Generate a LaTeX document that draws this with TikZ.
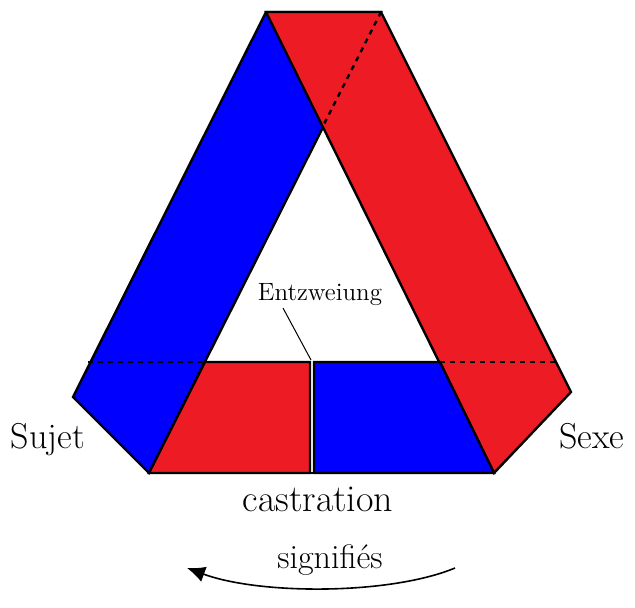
\documentclass[tikz,border=0pt]{standalone}
\usetikzlibrary{arrows.meta}
\definecolor{bandred}{RGB}{237,28,36}
\definecolor{bandblue}{RGB}{0,0,255}
\begin{document}
\begin{tikzpicture}[x=0.5pt,y=-0.5pt,
  band/.style={draw=black,line width=1.2pt,line join=miter},
  hid/.style={black,line width=1.2pt,dash pattern=on 2.5pt off 2.5pt},
  lbl/.style={font=\fontsize{18}{20}\selectfont}]
\useasboundingbox (0,0) rectangle (635,608);
\coordinate (T1) at (266,12); \coordinate (T2) at (381,12);
\coordinate (L1) at (73,397); \coordinate (L2) at (149,473);
\coordinate (R1) at (571,392); \coordinate (R2) at (494,473);
\coordinate (A) at (322,128); \coordinate (B) at (205,362); \coordinate (C) at (440,362);
\path[band,fill=bandblue] (T1) -- (T2) -- (L2) -- (L1) -- cycle;
\path[band,fill=bandred] (T1) -- (T2) -- (R1) -- (R2) -- cycle;
\path[band,fill=bandred] (B) -- (310,362) -- (310,473) -- (L2) -- cycle;
\path[band,fill=bandblue] (314,362) -- (C) -- (R2) -- (314,473) -- cycle;
\draw[band] (L2) -- (R2);
\draw[hid] (T2) -- (A);
\draw[hid] (88,362) -- (B);
\draw[hid] (C) -- (555,362);
\node[lbl] (sujet) at (48,440) {Sujet};
\node[lbl] (sexe) at (592,436) {Sexe};
\node[font=\fontsize{19}{21}\selectfont] (cast) at (318,499) {castration};
\node[font=\fontsize{12.5}{14}\selectfont] (entz) at (320,295) {Entzweiung};
\coordinate (ep) at (311,360);
\draw[line width=0.5pt] (283,308) -- (ep);
\node[font=\fontsize{17}{19}\selectfont] (sig) at (330,560) {signifiés};
\coordinate (s1) at (455,568); \coordinate (s2) at (187,568);
\draw[line width=0.8pt,-{Latex[length=9pt,width=8pt]}] (s1) .. controls (390,595) and (260,595) .. (s2);
\end{tikzpicture}
\end{document}
